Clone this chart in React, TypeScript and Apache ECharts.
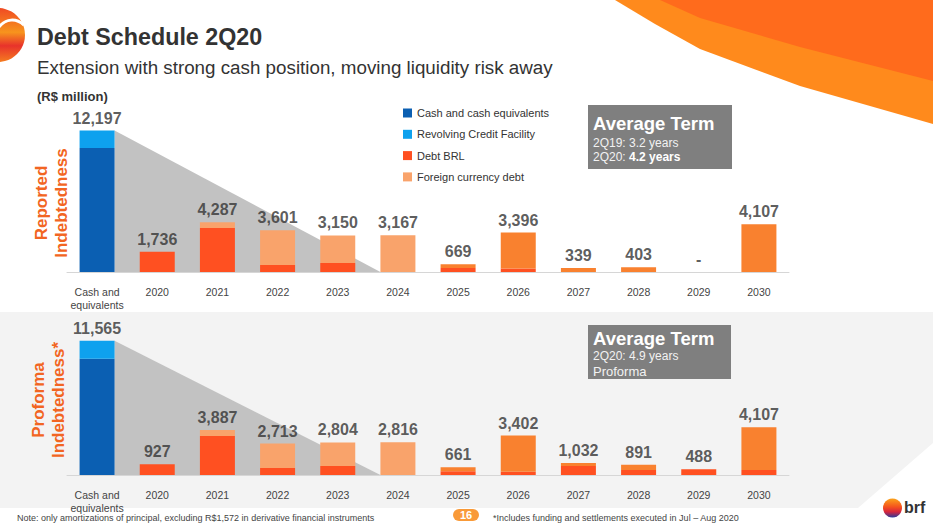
import React, { useEffect, useRef } from "react";
import * as echarts from "echarts";

const CATEGORIES = ["Cash and\nequivalents", "2020", "2021", "2022", "2023", "2024", "2025", "2026", "2027", "2028", "2029", "2030"];
const SERIES_NAMES = ["Cash and cash equivalents", "Revolving Credit Facility", "Debt BRL", "Foreign currency debt"];

// Reported indebtedness (R$ million)
const REPORTED_CASH = [10697, null, null, null, null, null, null, null, null, null, null, null];
const REPORTED_RCF = [1500, null, null, null, null, null, null, null, null, null, null, null];
const REPORTED_BRL = [null, 1736, 3787, 600, 780, null, 340, 310, null, null, null, null];
const REPORTED_FX = [null, null, 500, 3001, 2370, 3167, 329, 3086, 339, 403, null, 4107];

// Proforma indebtedness (R$ million)
const PROFORMA_CASH = [10015, null, null, null, null, null, null, null, null, null, null, null];
const PROFORMA_RCF = [1550, null, null, null, null, null, null, null, null, null, null, null];
const PROFORMA_BRL = [null, 927, 3367, 600, 780, null, 320, 290, 780, 430, 488, 430];
const PROFORMA_FX = [null, null, 520, 2113, 2024, 2816, 341, 3112, 252, 461, null, 3677];

const TRIANGLE_END = "2024";

const FONT = '"Liberation Sans", Arial, Helvetica, sans-serif';
const COLORS = { cash: "#0B5FB2", rcf: "#0EA1EE", brl: "#FF5021", fx: "#F9A36B", fxTail: "#F9812F" };
const BAR_W = 35;
const Y_MAX = 13000;

function fmt(v: number) {
  if (!v) return "-";
  return v.toLocaleString("en-US");
}

function buildPanel(idx: number, cash: any[], rcf: any[], brl: any[], fx: any[]) {
  const totals = CATEGORIES.map((_, i) => (cash[i] || 0) + (rcf[i] || 0) + (brl[i] || 0) + (fx[i] || 0));
  const endIdx = CATEGORIES.indexOf(TRIANGLE_END);
  const stack = "s" + idx;
  const base = { type: "bar", xAxisIndex: idx, yAxisIndex: idx, stack, barWidth: BAR_W, z: 2, silent: true };
  return [
    {
      type: "custom",
      xAxisIndex: idx,
      yAxisIndex: idx,
      z: 1,
      silent: true,
      data: [[0, totals[0], endIdx]],
      renderItem: (params: any, api: any) => {
        const top = api.coord([api.value(0), api.value(1)]);
        const startBase = api.coord([api.value(0), 0]);
        const endBase = api.coord([api.value(2), 0]);
        const h = BAR_W / 2;
        return {
          type: "polygon",
          shape: { points: [[top[0] + h, top[1]], [endBase[0] - h, endBase[1]], [startBase[0] + h, startBase[1]]] },
          style: { fill: "#C2C2C2" },
        };
      },
    },
    { ...base, name: SERIES_NAMES[0], data: cash, itemStyle: { color: COLORS.cash } },
    { ...base, name: SERIES_NAMES[1], data: rcf, itemStyle: { color: COLORS.rcf } },
    { ...base, name: SERIES_NAMES[2], data: brl, itemStyle: { color: COLORS.brl } },
    {
      ...base,
      name: SERIES_NAMES[3],
      itemStyle: { color: COLORS.fx },
      data: fx.map((v, i) => (i > endIdx && v != null ? { value: v, itemStyle: { color: COLORS.fxTail } } : v)),
    },
    {
      type: "scatter",
      xAxisIndex: idx,
      yAxisIndex: idx,
      z: 3,
      silent: true,
      symbolSize: 1,
      itemStyle: { color: "rgba(0,0,0,0)" },
      data: totals,
      label: {
        show: true,
        position: "top",
        distance: 4,
        formatter: (p: any) => fmt(p.value),
        color: "#333333",
        fontSize: 16,
        fontWeight: "bold",
        fontFamily: FONT,
      },
    },
  ];
}

function t(x: number, y: number, text: string, font: string, fill: string, extra: any = {}) {
  return {
    type: "text",
    x,
    y,
    z: 20,
    silent: true,
    style: { text, font, fill, verticalAlign: "middle", textVerticalAlign: "middle", ...extra },
  };
}

export default function App() {
  const ref = useRef<HTMLDivElement>(null);
  useEffect(() => {
    if (!ref.current) return;
    const chart = echarts.init(ref.current, null, { renderer: "svg" });

    const axisX = (gridIndex: number) => ({
      type: "category",
      gridIndex,
      data: CATEGORIES,
      axisLine: { show: true, lineStyle: { color: "#D6D6D6", width: 1 } },
      axisTick: { show: false },
      axisLabel: { color: "#444444", fontSize: 10.5, fontFamily: FONT, margin: 13.5, lineHeight: 13, interval: 0 },
    });
    const axisY = (gridIndex: number) => ({
      type: "value",
      gridIndex,
      min: 0,
      max: Y_MAX,
      show: false,
      splitLine: { show: false },
    });

    const graphic: any[] = [
      // proforma background band
      {
        type: "polygon",
        z: 0,
        silent: true,
        shape: { points: [[0, 312], [933, 312], [933, 443], [858, 508], [0, 508]] },
        style: { fill: "#F3F3F3" },
      },
      // top-right swoosh
      {
        type: "polygon",
        z: 1,
        silent: true,
        shape: { points: [[615, 0], [933, 0], [933, 124], [800, 86], [700, 49], [655, 24]] },
        style: { fill: "#FF8A1C" },
      },
      {
        type: "polygon",
        z: 2,
        silent: true,
        shape: { points: [[660, 0], [933, 0], [933, 81], [800, 47], [700, 18]] },
        style: { fill: "#FF6B1C" },
      },
      // top-left logo
      {
        type: "circle",
        z: 3,
        silent: true,
        shape: { cx: -2, cy: 35, r: 27 },
        style: {
          fill: new echarts.graphic.LinearGradient(0, 0, 0, 1, [
            { offset: 0, color: "#F04A23" },
            { offset: 0.45, color: "#F7941D" },
            { offset: 0.7, color: "#E8322B" },
            { offset: 1, color: "#F57C20" },
          ]),
        },
      },
      {
        type: "bezierCurve",
        z: 4,
        silent: true,
        shape: { x1: -2, y1: 28, cpx1: 6, cpy1: 18, cpx2: 16, cpy2: 18, x2: 24, y2: 25 },
        style: { stroke: "#FFFFFF", lineWidth: 3, fill: null },
      },
      // titles
      t(37, 36.5, "Debt Schedule 2Q20", `bold 23.3px ${FONT}`, "#333333"),
      t(37, 67, "Extension with strong cash position, moving liquidity risk away", `18.8px ${FONT}`, "#333333"),
      t(37, 96, "(R$ million)", `bold 13px ${FONT}`, "#333333"),
      // average term boxes
      { type: "rect", z: 5, silent: true, shape: { x: 588, y: 105, width: 144, height: 64 }, style: { fill: "#7F7F7F" } },
      t(593, 123.5, "Average Term", `bold 18.5px ${FONT}`, "#FFFFFF"),
      t(593, 142.5, "2Q19: 3.2 years", `12px ${FONT}`, "#F2F2F2"),
      {
        ...t(593, 156.5, "2Q20: {b|4.2 years}", `12px ${FONT}`, "#F2F2F2"),
        style: {
          text: "2Q20: {b|4.2 years}",
          font: `12px ${FONT}`,
          fill: "#F2F2F2",
          verticalAlign: "middle",
          textVerticalAlign: "middle",
          rich: { b: { fontWeight: "bold", fontSize: 12, fontFamily: FONT, fill: "#FFFFFF" } },
        },
      },
      { type: "rect", z: 5, silent: true, shape: { x: 588, y: 325, width: 143, height: 54 }, style: { fill: "#7F7F7F" } },
      t(593, 338.5, "Average Term", `bold 18.5px ${FONT}`, "#FFFFFF"),
      t(593, 356, "2Q20: 4.9 years", `12px ${FONT}`, "#F2F2F2"),
      t(593, 371, "Proforma", `13px ${FONT}`, "#F2F2F2"),
      // section labels
      {
        type: "text",
        x: 51,
        y: 203,
        rotation: Math.PI / 2,
        z: 20,
        silent: true,
        style: {
          text: "Reported\nIndebtedness",
          font: `bold 17px ${FONT}`,
          fill: "#F26522",
          align: "center",
          textAlign: "center",
          verticalAlign: "middle",
          textVerticalAlign: "middle",
          lineHeight: 20,
        },
      },
      {
        type: "text",
        x: 48,
        y: 400,
        rotation: Math.PI / 2,
        z: 20,
        silent: true,
        style: {
          text: "Proforma\nIndebtedness*",
          font: `bold 17px ${FONT}`,
          fill: "#F26522",
          align: "center",
          textAlign: "center",
          verticalAlign: "middle",
          textVerticalAlign: "middle",
          lineHeight: 20,
        },
      },
      // footer
      t(17, 518, "Note: only amortizations of principal, excluding R$1,572 in derivative financial instruments", `9px ${FONT}`, "#444444"),
      t(493, 518, "*Includes funding and settlements executed in Jul \u2013 Aug 2020", `9px ${FONT}`, "#444444"),
      { type: "rect", z: 5, silent: true, shape: { x: 453, y: 509, width: 26, height: 12, r: 6 }, style: { fill: "#F99A38" } },
      t(466, 515, "16", `bold 11px ${FONT}`, "#FFFFFF", { align: "center", textAlign: "center" }),
      // brf logo
      {
        type: "circle",
        z: 5,
        silent: true,
        shape: { cx: 892.5, cy: 508, r: 9.5 },
        style: {
          fill: new echarts.graphic.LinearGradient(0, 0, 0, 1, [
            { offset: 0, color: "#FBA31A" },
            { offset: 0.45, color: "#F4511E" },
            { offset: 0.7, color: "#D7263D" },
            { offset: 1, color: "#2B3A9B" },
          ]),
        },
      },
      t(904, 507, "brf", `bold 16px ${FONT}`, "#333333"),
    ];

    const option: any = {
      animation: false,
      backgroundColor: "#FFFFFF",
      textStyle: { fontFamily: FONT },
      legend: {
        orient: "vertical",
        left: 403,
        top: 107,
        padding: 0,
        itemWidth: 9,
        itemHeight: 9,
        itemGap: 9.3,
        icon: "rect",
        selectedMode: false,
        data: SERIES_NAMES,
        textStyle: { color: "#333333", fontSize: 11, fontFamily: FONT, lineHeight: 12 },
      },
      grid: [
        { left: 67, width: 722, top: 121.2, height: 150.8, containLabel: false },
        { left: 67, width: 722, top: 324.2, height: 150.8, containLabel: false },
      ],
      xAxis: [axisX(0), axisX(1)],
      yAxis: [axisY(0), axisY(1)],
      graphic,
      series: [
        ...buildPanel(0, REPORTED_CASH, REPORTED_RCF, REPORTED_BRL, REPORTED_FX),
        ...buildPanel(1, PROFORMA_CASH, PROFORMA_RCF, PROFORMA_BRL, PROFORMA_FX),
      ],
    };
    chart.setOption(option);
    return () => chart.dispose();
  }, []);

  return <div ref={ref} style={{ position: "absolute", left: 0, top: 0, width: 933, height: 525 }} />;
}
